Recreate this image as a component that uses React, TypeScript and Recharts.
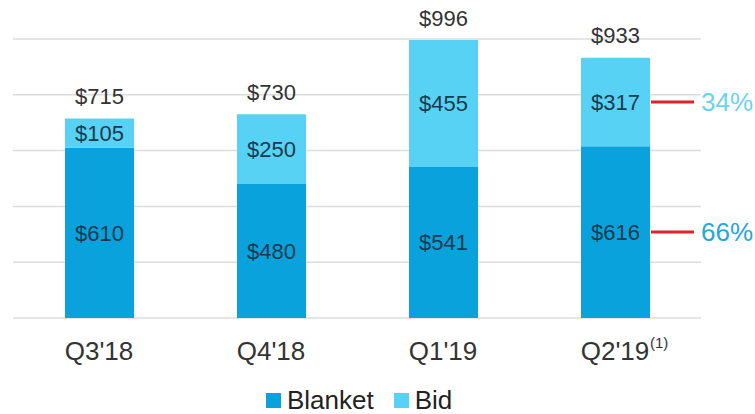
import React from "react"
import { BarChart, Bar, XAxis, YAxis, CartesianGrid, LabelList, Legend } from "recharts"

const quarters = ["Q3'18", "Q4'18", "Q1'19", "Q2'19"]
const footnotes = ["", "", "", "(1)"]
const blanket = [610, 480, 541, 616]
const bid = [105, 250, 455, 317]
const yTicks = [0, 200, 400, 600, 800, 1000]
const seriesNames = ["Blanket", "Bid"]

const BLANKET_COLOR = "#0aa2dc"
const BID_COLOR = "#58d2f4"
const FONT = "'Liberation Sans', Arial, sans-serif"

const data = quarters.map((q, i) => ({
  quarter: q,
  blanket: blanket[i],
  bid: bid[i],
  total: blanket[i] + bid[i],
}))

const lastIndex = quarters.length - 1

function QuarterTick(props: any) {
  const { x, y, payload, index } = props
  const note = footnotes[index]
  const cy = y + 27
  return (
    <g>
      <text x={x} y={cy} dy="0.35em" textAnchor="middle" fontSize={26} fill="#333" fontFamily={FONT}>
        {payload.value}
      </text>
      {note ? (
        <text x={x + 35} y={cy - 8} dy="0.35em" fontSize={15} fill="#333" fontFamily={FONT}>
          {note}
        </text>
      ) : null}
    </g>
  )
}

function SegmentLabel(props: any) {
  const { x, y, width, height, value } = props
  return (
    <text
      x={x + width / 2}
      y={y + height / 2}
      dy="0.35em"
      textAnchor="middle"
      fontSize={22}
      fill="#183a4c"
      fontFamily={FONT}
    >
      ${value}
    </text>
  )
}

function TotalLabel(props: any) {
  const { x, y, width, value } = props
  return (
    <text x={x + width / 2} y={y - 22} dy="0.35em" textAnchor="middle" fontSize={22} fill="#333" fontFamily={FONT}>
      ${value}
    </text>
  )
}

// share callout on the last bar: red tick + percentage
function shareLabel(series: number[], color: string) {
  return (props: any) => {
    const { x, y, width, height, index } = props
    if (index !== lastIndex) return null
    const total = blanket[index] + bid[index]
    const pct = Math.round((series[index] / total) * 100)
    const cy = y + height / 2
    return (
      <g>
        <line x1={x + width + 1} x2={x + width + 44} y1={cy} y2={cy} stroke="#e0202a" strokeWidth={3} />
        <text x={x + width + 51} y={cy} dy="0.35em" fontSize={26} fill={color} fontFamily={FONT}>
          {pct}%
        </text>
      </g>
    )
  }
}

function LegendContent(props: any) {
  const { payload } = props
  const items = seriesNames.map((name) => (payload || []).find((p: any) => p.value === name)).filter(Boolean)
  return (
    <div style={{ display: "flex", alignItems: "center", fontFamily: FONT, fontSize: 26, lineHeight: "26px", color: "#222" }}>
      {items.map((p: any, i: number) => (
        <div key={i} style={{ display: "flex", alignItems: "center", marginRight: 20 }}>
          <span style={{ display: "inline-block", width: 15, height: 15, background: p.color, marginRight: 6 }} />
          <span>{p.value}</span>
        </div>
      ))}
    </div>
  )
}

export default function App() {
  return (
    <div style={{ position: "absolute", left: 0, top: 0, width: 755, height: 414, background: "#fff", fontFamily: FONT }}>
      <BarChart width={755} height={414} data={data} margin={{ top: 39, right: 54, left: 13, bottom: 0 }}>
        <CartesianGrid vertical={false} stroke="#dcdcdc" strokeWidth={1.5} />
        <XAxis
          dataKey="quarter"
          height={96}
          axisLine={false}
          tickLine={false}
          interval={0}
          tick={<QuarterTick />}
          tickMargin={0}
        />
        <YAxis hide domain={[0, 1000]} ticks={yTicks} />
        <Legend
          verticalAlign="middle"
          align="center"
          wrapperStyle={{ top: 387, left: 266, width: 320, height: 28 }}
          content={<LegendContent />}
        />
        <Bar dataKey="blanket" name="Blanket" stackId="a" fill={BLANKET_COLOR} barSize={69} isAnimationActive={false}>
          <LabelList dataKey="blanket" content={<SegmentLabel />} />
          <LabelList dataKey="blanket" content={shareLabel(blanket, "#28a5d8")} />
        </Bar>
        <Bar dataKey="bid" name="Bid" stackId="a" fill={BID_COLOR} barSize={69} isAnimationActive={false}>
          <LabelList dataKey="bid" content={<SegmentLabel />} />
          <LabelList dataKey="bid" content={shareLabel(bid, "#6dd2f0")} />
          <LabelList dataKey="total" content={<TotalLabel />} />
        </Bar>
      </BarChart>
    </div>
  )
}
